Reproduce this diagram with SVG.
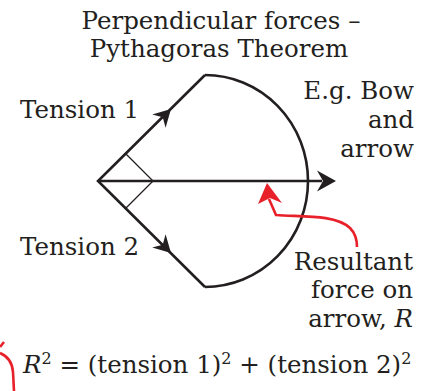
<svg xmlns="http://www.w3.org/2000/svg" width="434" height="391" viewBox="0 0 434 391">
<style>
text{font-family:"DejaVu Serif","Liberation Serif",serif;font-size:24.5px;fill:#231f20}
.ln{fill:none;stroke:#231f20;stroke-width:2.6;stroke-linejoin:miter}
.thin{fill:none;stroke:#231f20;stroke-width:1.3}
.red{fill:none;stroke:#e8202a;stroke-width:2.6}
</style>
<defs>
<path id="head" d="M0,0 L-19,-10.5 L-13,0 L-19,10.5 Z" fill="#231f20"/>
</defs>
<g id="title">
<text x="221" y="29" text-anchor="middle">Perpendicular forces –</text>
<text x="219" y="57" text-anchor="middle">Pythagoras Theorem</text>
</g>
<g id="connectors">
<path class="ln" d="M205,75 L98,181 L205,287"/>
<path class="ln" d="M205,75 A103 106 0 0 1 205,287"/>
<path class="ln" d="M98,181 L322,181"/>
<path class="thin" d="M126,154 L153,181 L126,208"/>
<use href="#head" transform="translate(336,181)"/>
<use href="#head" transform="translate(171,109) rotate(-45) scale(0.9)"/>
<use href="#head" transform="translate(171,253) rotate(45) scale(0.9)"/>
<path class="red" d="M269,199 L276,215 C300,217 335,214 350,228 C356,234 357,240 357,247"/>
<path d="M267,183 L282,203 L270,198 L258,204 Z" fill="#e8202a"/>
<path class="red" d="M0,353 Q12,358 13,372 L14,391"/>
<path class="red" stroke-width="1.5" d="M0,347 L4,342"/>
</g>
<g id="tension1"><text x="20" y="118" font-size="25.5">Tension 1</text></g>
<g id="tension2"><text x="20" y="255" font-size="25.5">Tension 2</text></g>
<g id="bow">
<text x="414" y="99" text-anchor="end">E.g. Bow</text>
<text x="414" y="128" text-anchor="end">and</text>
<text x="414" y="157" text-anchor="end">arrow</text>
</g>
<g id="resultant">
<text x="413" y="270" text-anchor="end">Resultant</text>
<text x="413" y="298" text-anchor="end">force on</text>
<text x="413" y="327" text-anchor="end">arrow, <tspan font-style="italic">R</tspan></text>
</g>
<g id="formula">
<text x="23" y="373"><tspan font-style="italic">R</tspan><tspan dy="-9" font-size="16">2</tspan><tspan dy="9"> = (tension 1)</tspan><tspan dy="-9" font-size="16">2</tspan><tspan dy="9"> + (tension 2)</tspan><tspan dy="-9" font-size="16">2</tspan></text>
</g>
</svg>
